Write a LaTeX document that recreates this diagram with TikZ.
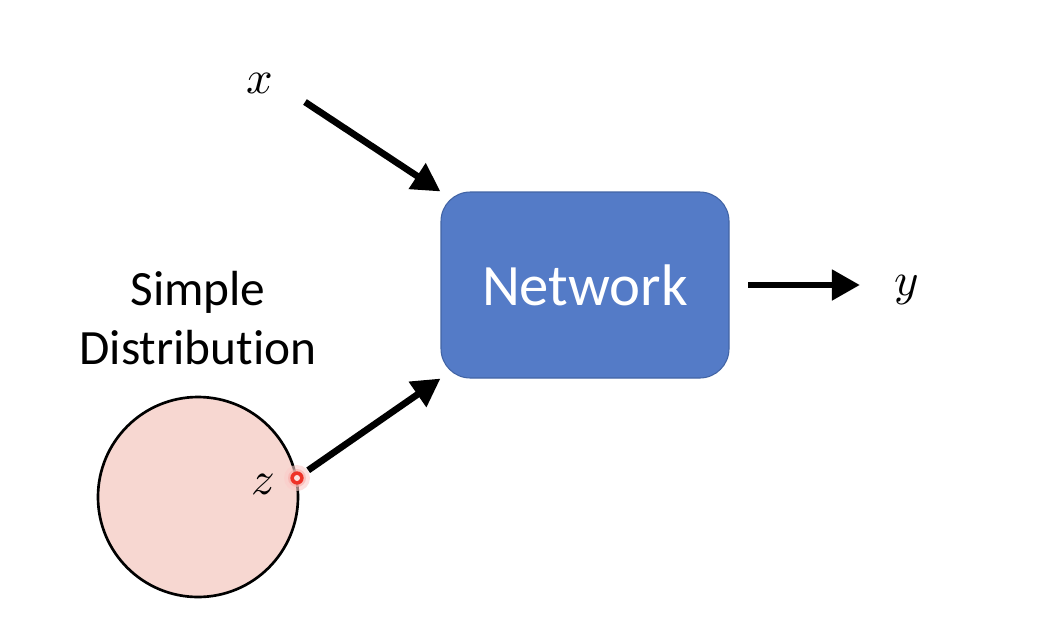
\documentclass[tikz,border=0pt]{standalone}
\usepackage{fontspec}
\usepackage{unicode-math}
\setmainfont{Carlito}[Ligatures=NoCommon]
\setmathfont{Latin Modern Math}
\usetikzlibrary{arrows.meta}
\definecolor{netblue}{RGB}{84,123,199}
\definecolor{netedge}{RGB}{66,100,165}
\definecolor{distpink}{RGB}{247,215,209}
\definecolor{zred}{RGB}{238,50,40}

\begin{document}
\begin{tikzpicture}[x=0.75pt, y=-0.75pt,
    arr/.style={line width=5pt, -{Triangle[length=21pt,width=22pt]}},
    box/.style={draw=netedge, line width=0.8pt, fill=netblue, rounded corners=22pt,
                minimum width=216pt, minimum height=139.5pt, text=white,
                font=\fontsize{44}{52}\selectfont},
    dist/.style={circle, draw=black, line width=2pt, fill=distpink, minimum size=150pt, inner sep=0pt},
    lab/.style={inner sep=0pt, font=\fontsize{35}{42}\selectfont}]
  \useasboundingbox (0,0) rectangle (1042,618);

  \node[box]  (net)  at (585,285) {Network};
  \node[dist] (circ) at (198,497) {};
  \node[align=center, font=\fontsize{37}{44}\selectfont] (simple) at (198,318) {Simple\\Distribution};
  \node[lab]  (xlab) at (260,83)  {$x$};
  \node[lab]  (ylab) at (907,290) {$y$};
  \node[lab]  (zlab) at (263,484) {$z$};

  % sample point on the circle
  \fill[zred!25, opacity=0.6] (297,478) circle (13);
  \fill[zred!40, opacity=0.6] (297,478) circle (9);
  \node[circle, fill=zred, minimum size=10pt, inner sep=0pt] (zpt) at (297,478) {};
  \fill[white!85!zred] (zpt) circle (3);

  \coordinate (xtail) at (305,102);
  \path (xtail)    edge[arr]                                (net.north west)
        (zpt)      edge[arr, shorten <=5pt]                 (net.south west)
        (net.east) edge[arr, shorten <=14pt, shorten >=26pt] (net.east -| ylab.west)
        ;
\end{tikzpicture}
\end{document}
